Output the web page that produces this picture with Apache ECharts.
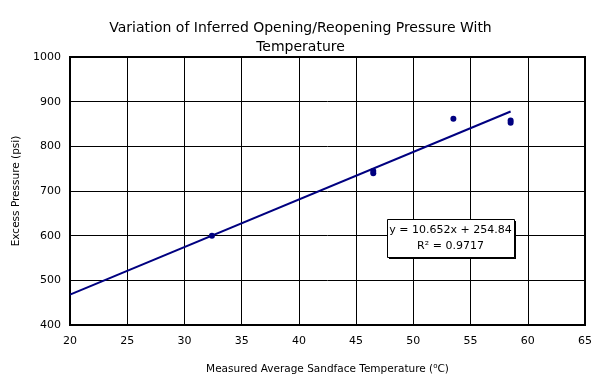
<!DOCTYPE html>
<html><head><meta charset="utf-8">
<script src="https://cdn.jsdelivr.net/npm/echarts@6/dist/echarts.min.js"></script>
<style>html,body{margin:0;padding:0;background:#fff}#c{width:601px;height:387px}</style>
</head><body><div id="c"></div>
<script>
const temps = [32.4, 46.5, 46.5, 53.5, 58.5, 58.5];
const pressures = [600, 740, 745, 862, 853, 858];
const trendX = [20, 58.5];
const trendY = [468, 878];
const xTicks = [20, 25, 30, 35, 40, 45, 50, 55, 60, 65];
const yTicks = [400, 500, 600, 700, 800, 900, 1000];
const titleText = 'Variation of Inferred Opening/Reopening Pressure With\nTemperature';
const eqLine1 = 'y = 10.652x + 254.84';
const eqLine2 = 'R² = 0.9717';

const FONT = '"DejaVu Sans", Verdana, sans-serif';
const chart = echarts.init(document.getElementById('c'));
chart.setOption({
  animation: false,
  backgroundColor: '#fff',
  title: {
    text: titleText, left: 'center', top: 14,
    textStyle: {fontFamily: FONT, fontSize: 14, fontWeight: 'normal', color: '#000', lineHeight: 19}
  },
  grid: {left: 70, right: 16, top: 57, bottom: 62, show: true, borderColor: '#000', borderWidth: 2},
  xAxis: {
    type: 'value', min: xTicks[0], max: xTicks[xTicks.length-1], interval: 5,
    axisLine: {lineStyle: {color: '#000', width: 2}},
    axisTick: {show: false},
    axisLabel: {fontFamily: FONT, fontSize: 11, color: '#000', margin: 11},
    splitLine: {lineStyle: {color: '#000', width: 1}},
    name: 'Measured Average Sandface Temperature ({sup|o}C)',
    nameLocation: 'middle', nameGap: 38,
    nameTextStyle: {fontFamily: FONT, fontSize: 10.5, color: '#000',
      rich: {sup: {fontSize: 7, verticalAlign: 'top', padding: [0,0,5,0], fontFamily: FONT, color:'#000'}}}
  },
  yAxis: {
    type: 'value', min: yTicks[0], max: yTicks[yTicks.length-1], interval: 100,
    axisLine: {lineStyle: {color: '#000', width: 2}},
    axisTick: {show: false},
    axisLabel: {fontFamily: FONT, fontSize: 11, color: '#000', margin: 9, formatter: v => String(v)},
    splitLine: {lineStyle: {color: '#000', width: 1}},
    name: 'Excess Pressure (psi)', nameLocation: 'middle', nameGap: 41,
    nameTextStyle: {fontFamily: FONT, fontSize: 10.5, color: '#000'}
  },
  series: [
    {
      type: 'line', data: trendX.map((x, i) => [x, trendY[i]]),
      symbol: 'none', lineStyle: {color: '#000080', width: 2}, z: 3
    },
    {
      type: 'scatter', data: temps.map((x, i) => [x, pressures[i]]),
      symbol: 'circle', symbolSize: 6, itemStyle: {color: '#000080', opacity: 1}, z: 4
    }
  ],
  graphic: [
    {type: 'rect', shape: {x: 389, y: 221, width: 127, height: 38}, style: {fill: '#000'}, z: 10},
    {type: 'rect', shape: {x: 387.5, y: 219.5, width: 127, height: 38}, style: {fill: '#fff', stroke: '#000', lineWidth: 1}, z: 11},
    {type: 'text', x: 450.5, y: 230.5, style: {text: eqLine1, fill: '#000', font: '11px ' + FONT, align: 'center', verticalAlign: 'middle'}, z: 12},
    {type: 'text', x: 450.5, y: 246, style: {text: eqLine2, fill: '#000', font: '11px ' + FONT, align: 'center', verticalAlign: 'middle'}, z: 12}
  ]
});
</script></body></html>
